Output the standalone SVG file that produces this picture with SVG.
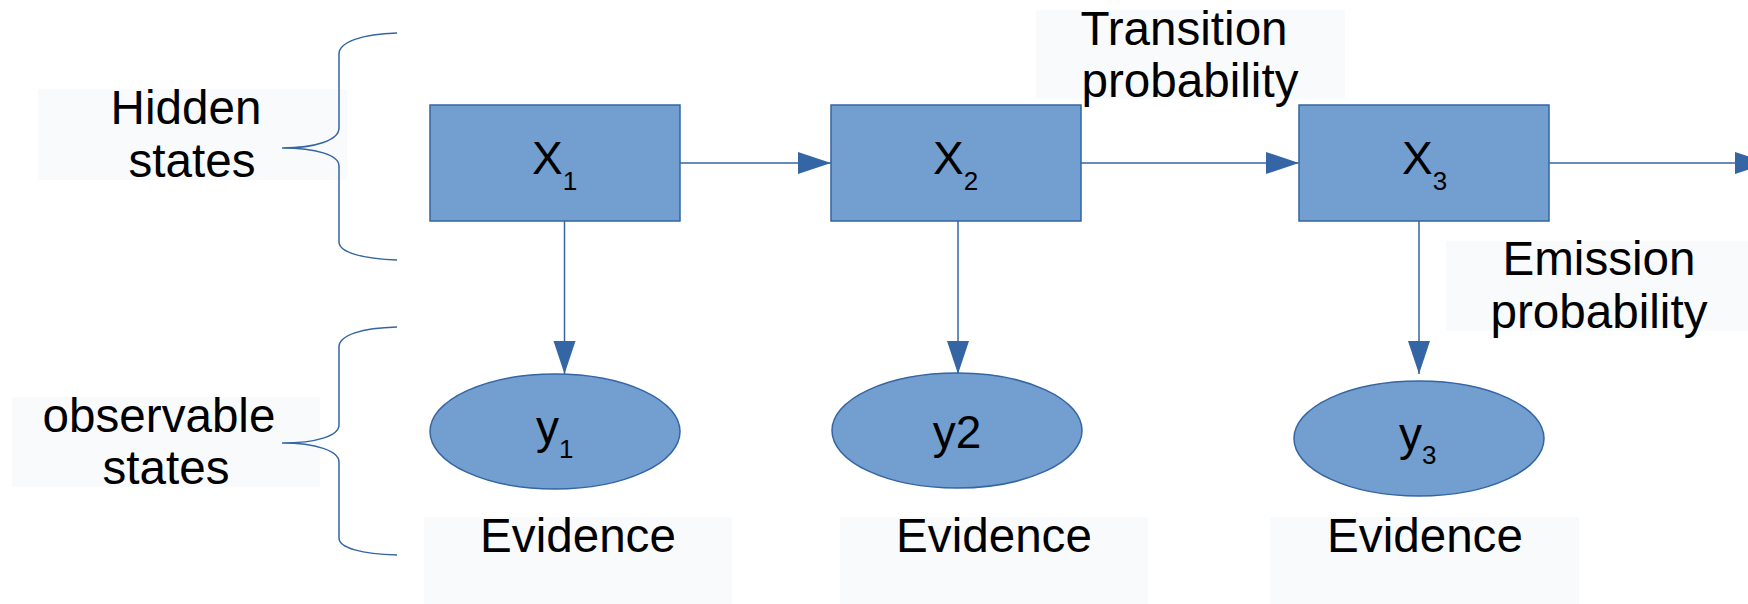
<svg xmlns="http://www.w3.org/2000/svg" width="1748" height="604" viewBox="0 0 1748 604">
<style>
.bg{fill:#f9fafc;stroke:none}
.node{fill:#729fcf;stroke:#3465a4;stroke-width:1.5}
.lbl{font-family:"Liberation Sans",Arial,sans-serif;font-size:47.6px;fill:#000}
.nl{font-family:"Liberation Sans",Arial,sans-serif;font-size:46px;fill:#000}
.sub{font-size:26px}
.brace{fill:none;stroke:#3465a4;stroke-width:1.5}
.conn{fill:none;stroke:#3465a4;stroke-width:1.5}
</style>
<defs>
<marker id="ah" markerUnits="userSpaceOnUse" markerWidth="34" markerHeight="23" refX="33" refY="11" orient="auto" viewBox="0 0 34 23">
<path d="M0,0 L33,11 L0,22 z" fill="#3465a4"/>
</marker>
</defs>
<rect width="1748" height="604" fill="#ffffff"/>

<g id="label-hidden">
<rect class="bg" x="38" y="89" width="309" height="91"/>
<text class="lbl" x="186" y="124" text-anchor="middle">Hidden</text>
<text class="lbl" x="192" y="177" text-anchor="middle">states</text>
</g>
<g id="label-observable">
<rect class="bg" x="12" y="397" width="308" height="90"/>
<text class="lbl" x="159" y="432" text-anchor="middle">observable</text>
<text class="lbl" x="166" y="484" text-anchor="middle">states</text>
</g>
<g id="label-transition">
<rect class="bg" x="1036" y="10" width="309" height="89"/>
<text class="lbl" x="1184" y="45" text-anchor="middle">Transition</text>
<text class="lbl" x="1190" y="97" text-anchor="middle">probability</text>
</g>
<g id="label-emission">
<rect class="bg" x="1446" y="241" width="310" height="90"/>
<text class="lbl" x="1599" y="275" text-anchor="middle">Emission</text>
<text class="lbl" x="1599" y="328" text-anchor="middle">probability</text>
</g>
<g id="evidence-1">
<rect class="bg" x="424" y="517" width="308" height="90"/>
<text class="lbl" x="578" y="552" text-anchor="middle">Evidence</text>
</g>
<g id="evidence-2">
<rect class="bg" x="840" y="517" width="308" height="90"/>
<text class="lbl" x="994" y="552" text-anchor="middle">Evidence</text>
</g>
<g id="evidence-3">
<rect class="bg" x="1270" y="517" width="309" height="90"/>
<text class="lbl" x="1425" y="552" text-anchor="middle">Evidence</text>
</g>

<g id="brace-hidden">
<path class="brace" d="M397,33 C362,34 339,42 339,54 L339,128 C339,140 316,148 282,148 C316,148 339,155 339,166 L339,242 C339,252 362,259 397,260"/>
</g>
<g id="brace-observable">
<path class="brace" d="M397,327 C362,328 339,335 339,347 L339,425 C339,436 316,443 282,443 C316,443 339,451 339,462 L339,538 C339,548 362,554 397,555"/>
</g>

<g id="connectors">
<line class="conn" x1="680" y1="163" x2="831" y2="163" marker-end="url(#ah)"/>
<line class="conn" x1="1081" y1="163" x2="1299" y2="163" marker-end="url(#ah)"/>
<line class="conn" x1="1549" y1="163" x2="1768" y2="163" marker-end="url(#ah)"/>
<line class="conn" x1="564.5" y1="221" x2="564.5" y2="374" marker-end="url(#ah)"/>
<line class="conn" x1="958" y1="221" x2="958" y2="374" marker-end="url(#ah)"/>
<line class="conn" x1="1419" y1="221" x2="1419" y2="374" marker-end="url(#ah)"/>
</g>

<g id="X1">
<rect class="node" x="430" y="105" width="250" height="116"/>
<text class="nl" x="532" y="174">X<tspan class="sub" dy="16">1</tspan></text>
</g>
<g id="X2">
<rect class="node" x="831" y="105" width="250" height="116"/>
<text class="nl" x="933" y="174">X<tspan class="sub" dy="16">2</tspan></text>
</g>
<g id="X3">
<rect class="node" x="1299" y="105" width="250" height="116"/>
<text class="nl" x="1402" y="174">X<tspan class="sub" dy="16">3</tspan></text>
</g>

<g id="y1">
<ellipse class="node" cx="555" cy="431.5" rx="125" ry="57.5"/>
<text class="nl" x="536" y="443">y<tspan class="sub" dy="15">1</tspan></text>
</g>
<g id="y2">
<ellipse class="node" cx="957" cy="430.5" rx="125" ry="57.5"/>
<text class="nl" x="957" y="448" text-anchor="middle">y2</text>
</g>
<g id="y3">
<ellipse class="node" cx="1419" cy="438.5" rx="125" ry="57.5"/>
<text class="nl" x="1399" y="450">y<tspan class="sub" dy="14">3</tspan></text>
</g>
</svg>
